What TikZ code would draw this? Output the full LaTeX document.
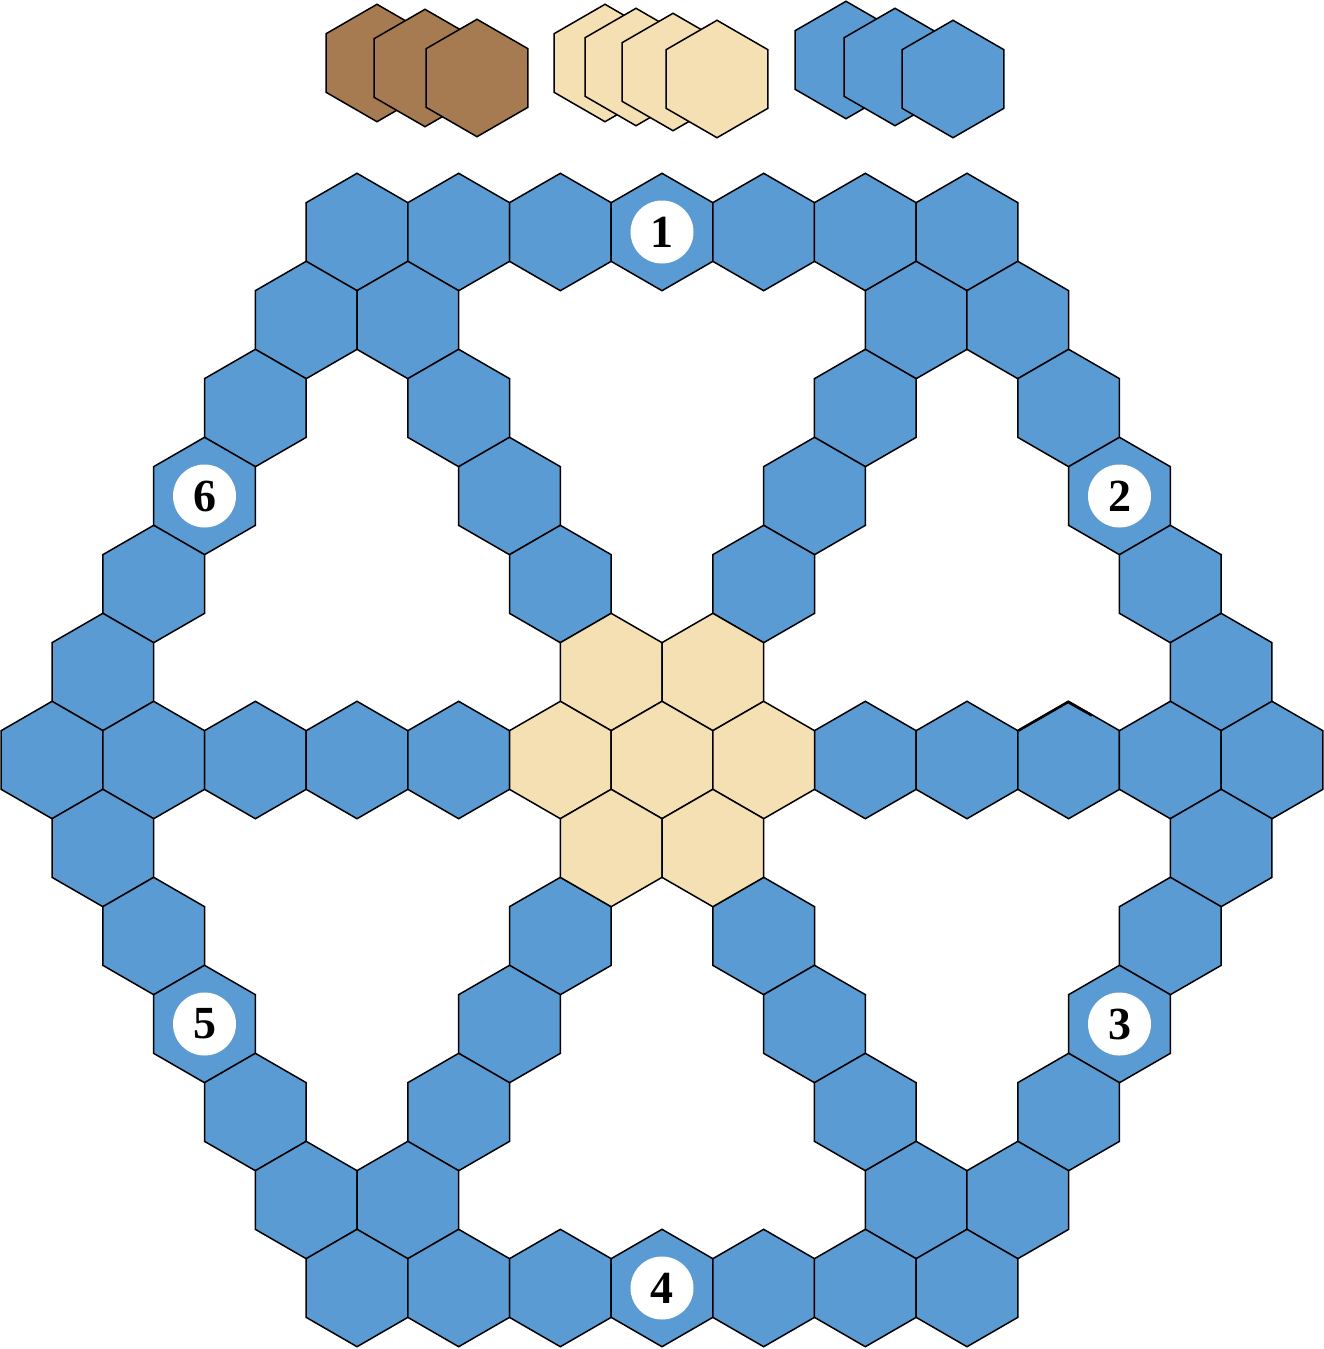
\documentclass[tikz,border=0pt]{standalone}
\usepackage{fontspec}
\setmainfont{Liberation Serif}
\definecolor{hexblue}{HTML}{5B9BD3}
\definecolor{hextan}{HTML}{F5E0B4}
\definecolor{hexbrown}{HTML}{A67B51}
\tikzset{
  hexedge/.style={draw=black, line width=1.5pt, line join=miter},
  bluehex/.style={hexedge, fill=hexblue},
  tanhex/.style={hexedge, fill=hextan},
  brownhex/.style={hexedge, fill=hexbrown},
  numdisc/.style={circle, fill=white, inner sep=0pt, minimum size=63pt,
    font=\fontsize{46}{46}\selectfont\bfseries}
}
\newcommand\hexcell[3]{\path[#1] (#2,#3) +(90:58.7) -- +(30:58.7) -- +(-30:58.7)
  -- +(-90:58.7) -- +(-150:58.7) -- +(150:58.7) -- cycle;}
\begin{document}
\begin{tikzpicture}[x=1pt,y=-1pt]
\useasboundingbox (0,0) rectangle (1323,1349);
% supply stacks
\hexcell{brownhex}{377}{63}
\hexcell{brownhex}{425}{68}
\hexcell{brownhex}{477}{78}
\hexcell{tanhex}{605}{63}
\hexcell{tanhex}{636}{67}
\hexcell{tanhex}{673}{72}
\hexcell{tanhex}{717}{79}
\hexcell{bluehex}{846}{60}
\hexcell{bluehex}{895}{67}
\hexcell{bluehex}{953}{79}
% board: blue cells (k = half-width units, r = row)
\foreach \k/\r in {
  -6/-6,-4/-6,-2/-6,0/-6,2/-6,4/-6,6/-6,
  -7/-5,-5/-5,5/-5,7/-5,
  -8/-4,-4/-4,4/-4,8/-4,
  -9/-3,-3/-3,3/-3,9/-3,
  -10/-2,-2/-2,2/-2,10/-2,
  -11/-1,11/-1,
  -12/0,-10/0,-8/0,-6/0,-4/0,4/0,6/0,8/0,10/0,12/0,
  -11/1,11/1,
  -10/2,-2/2,2/2,10/2,
  -9/3,-3/3,3/3,9/3,
  -8/4,-4/4,4/4,8/4,
  -7/5,-5/5,5/5,7/5,
  -6/6,-4/6,-2/6,0/6,2/6,4/6,6/6}
  {\hexcell{bluehex}{662+\k*50.83}{760+\r*88}}
% slightly heavier top edge on one cell
\draw[line width=2.6pt, line join=miter] (1018.5,730.5) -- (1068,702) -- (1092,715.5);
% board: tan centre
\foreach \k/\r in {-1/-1,1/-1,-2/0,0/0,2/0,-1/1,1/1}
  {\hexcell{tanhex}{662+\k*50.83}{760+\r*88}}
% numbered discs
\node[numdisc] (n1) at (662,232) {1};
\node[numdisc] (n2) at (1119.5,496) {2};
\node[numdisc] (n3) at (1119.5,1024) {3};
\node[numdisc] (n4) at (662,1288) {4};
\node[numdisc] (n5) at (204.5,1024) {5};
\node[numdisc] (n6) at (204.5,496) {6};
\end{tikzpicture}
\end{document}
